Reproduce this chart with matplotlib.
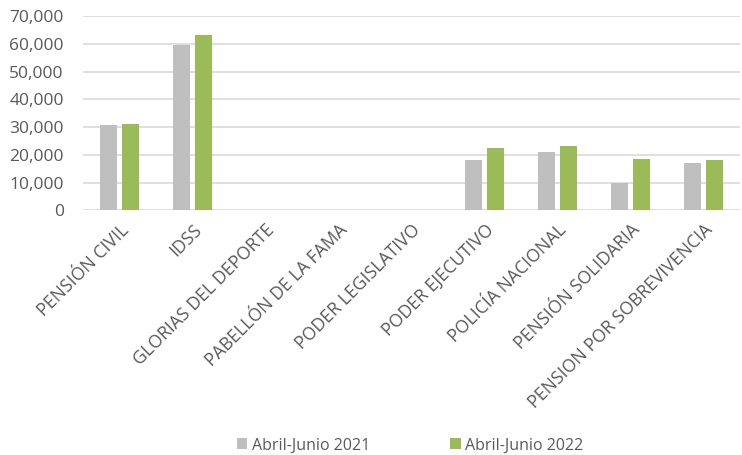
import matplotlib
matplotlib.use("Agg")
import matplotlib.pyplot as plt
import numpy as np
from matplotlib.ticker import FuncFormatter, MultipleLocator

categories = ["PENSIÓN CIVIL", "IDSS", "GLORIAS DEL DEPORTE", "PABELLÓN DE LA FAMA",
              "PODER LEGISLATIVO", "PODER EJECUTIVO", "POLICÍA NACIONAL",
              "PENSIÓN SOLIDARIA", "PENSION POR SOBREVIVENCIA"]
s2021 = [30800, 59500, 0, 0, 0, 18100, 20900, 9800, 17000]
s2022 = [31000, 63300, 0, 0, 0, 22500, 23300, 18600, 18100]
series_names = ["Abril-Junio 2021", "Abril-Junio 2022"]

plt.rcParams['font.family'] = ['Open Sans', 'DejaVu Sans']
text_color = "#595959"

fig = plt.figure(figsize=(7.42, 4.55), dpi=100)
ax = fig.add_axes([0.112, 0.538, 0.885, 0.426])

x = np.arange(len(categories))
w = 0.23
gap = 0.07
ax.bar(x - (w + gap) / 2, s2021, width=w, color="#BFBFBF", label=series_names[0], zorder=3)
ax.bar(x + (w + gap) / 2, s2022, width=w, color="#9BBB59", label=series_names[1], zorder=3)

ax.set_xlim(-0.5, len(categories) - 0.5)
ax.set_ylim(0, 70000)
ax.yaxis.set_major_locator(MultipleLocator(10000))
ax.yaxis.set_major_formatter(FuncFormatter(lambda v, p: f"{int(v):,}"))
ax.grid(axis='y', color="#D9D9D9", linewidth=1.2, zorder=0)
for s in ax.spines.values():
    s.set_visible(False)
ax.tick_params(axis='both', length=0, colors=text_color)
ax.tick_params(axis='y', labelsize=12.5, pad=14)
ax.set_xticks(x)
ax.set_xticklabels(categories, rotation=45, ha='right', rotation_mode='anchor',
                   fontsize=12.7, color=text_color)
for lbl in ax.get_xticklabels():
    lbl.set_y(-0.03)

leg = fig.legend(loc='lower center', bbox_to_anchor=(0.553, -0.028), ncol=2, frameon=False,
                 fontsize=11.5, handlelength=0.65, handleheight=0.65, columnspacing=5.0,
                 handletextpad=0.3)
for t in leg.get_texts():
    t.set_color(text_color)

fig.savefig("out.png", dpi=100)
